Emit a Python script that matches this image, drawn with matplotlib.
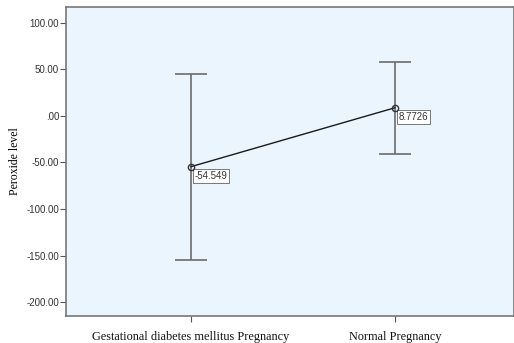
import matplotlib
matplotlib.use("Agg")
import matplotlib.pyplot as plt

# Group means and error bar ends
groups = ["Gestational diabetes mellitus Pregnancy", "Normal Pregnancy"]
means = [-54.549, 8.7726]
mean_labels = ["-54.549", "8.7726"]
upper = [44.6, 58.0]
lower = [-154.4, -41.0]
yticks = [100, 50, 0, -50, -100, -150, -200]
ytick_labels = ["100.00", "50.00", ".00", "-50.00", "-100.00", "-150.00", "-200.00"]

fig = plt.figure(figsize=(5.14, 3.43), dpi=100)
ax = fig.add_axes([66 / 514, 27 / 343, 448 / 514, 309 / 343])
ax.set_facecolor("#eaf5fe")

x = list(range(len(groups)))

# error bars
err_low = [m - l for m, l in zip(means, lower)]
err_high = [u - m for m, u in zip(means, upper)]
ax.errorbar(x, means, yerr=[err_low, err_high], fmt="none", ecolor="#6b6b6b",
            elinewidth=1.2, capsize=11.5, capthick=1.2, zorder=2)

# mean line and markers
ax.plot(x, means, color="#1a1a1a", linewidth=1.0, zorder=3)
ax.plot(x, means, "o", markersize=4.5, markerfacecolor="none",
        markeredgecolor="#333333", markeredgewidth=1.0, zorder=4)

for xi, m, lab in zip(x, means, mean_labels):
    ax.annotate(lab, (xi, m), xytext=(2.5, -3), textcoords="offset points",
                ha="left", va="top", fontsize=7, family="Liberation Sans",
                color="#333333",
                bbox=dict(boxstyle="square,pad=0.2", fc="white", ec="#777777", lw=0.7))

ax.set_xlim(-125 / 204, 1 + 119 / 204)
ax.set_ylim(-215, 117)
ax.set_yticks(yticks)
ax.set_yticklabels(ytick_labels, fontsize=7, family="Liberation Sans", color="#333333")
ax.set_xticks(x)
ax.set_xticklabels(groups, fontsize=8.8, family="Liberation Serif", color="#111111")
ax.tick_params(axis="y", direction="out", length=4, width=0.8, color="#555555", pad=1)
ax.tick_params(axis="x", direction="out", length=4, width=0.8, color="#555555", pad=7)
ax.set_ylabel("Peroxide level", fontsize=8.5, family="Liberation Serif", labelpad=4)

for s in ax.spines.values():
    s.set_color("#777777")
    s.set_linewidth(1.2)

fig.savefig("out.png", dpi=100)
